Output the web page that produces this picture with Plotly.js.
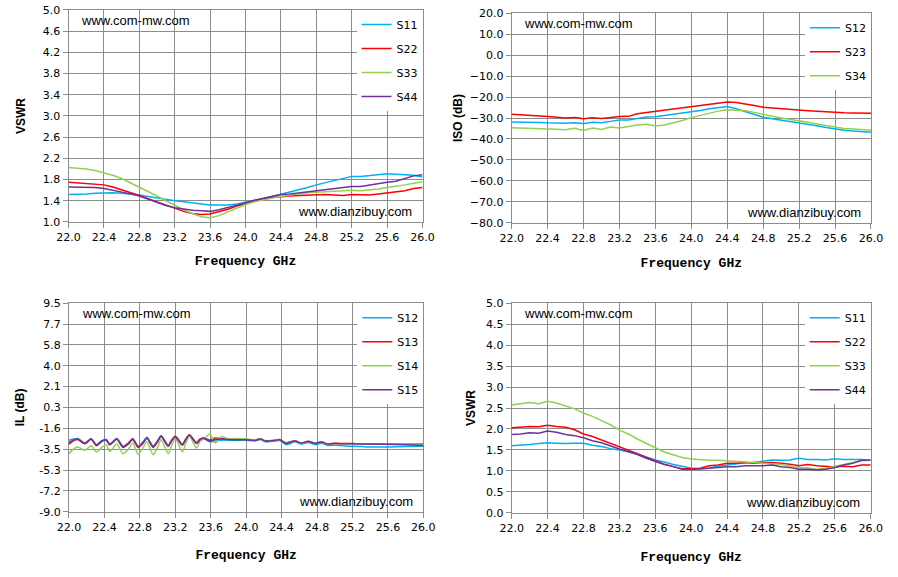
<!DOCTYPE html>
<html>
<head>
<meta charset="utf-8">
<script src="https://cdn.plot.ly/plotly-3.0.1.min.js"></script>
<style>
  html, body { margin: 0; padding: 0; background: #fff; }
  #chart { width: 898px; height: 577px; }
</style>
</head>
<body>
<div id="chart"></div>
<script>
// frequency grid (GHz) shared by the VSWR / ISO panels
var freq = [22.0, 22.1, 22.2, 22.3, 22.4, 22.5, 22.6, 22.7, 22.8, 22.9,
            23.0, 23.1, 23.2, 23.3, 23.4, 23.5, 23.6, 23.7, 23.8, 23.9,
            24.0, 24.1, 24.2, 24.3, 24.4, 24.5, 24.6, 24.7, 24.8, 24.9,
            25.0, 25.1, 25.2, 25.3, 25.4, 25.5, 25.6, 25.7, 25.8, 25.9, 26.0];

// panel 1 : VSWR
var vswrA_S11 = [1.52, 1.52, 1.53, 1.54, 1.55, 1.55, 1.54, 1.53, 1.51, 1.48,
                 1.45, 1.42, 1.40, 1.38, 1.36, 1.34, 1.32, 1.32, 1.32, 1.34,
                 1.37, 1.40, 1.44, 1.48, 1.52, 1.56, 1.61, 1.65, 1.70, 1.74,
                 1.77, 1.81, 1.86, 1.86, 1.88, 1.89, 1.91, 1.90, 1.89, 1.88, 1.85];
var vswrA_S22 = [1.75, 1.74, 1.73, 1.72, 1.70, 1.66, 1.61, 1.56, 1.50, 1.44,
                 1.38, 1.31, 1.25, 1.20, 1.16, 1.14, 1.15, 1.19, 1.24, 1.30,
                 1.35, 1.40, 1.44, 1.46, 1.48, 1.49, 1.50, 1.51, 1.51, 1.52,
                 1.51, 1.50, 1.52, 1.51, 1.51, 1.53, 1.55, 1.56, 1.59, 1.63, 1.65];
var vswrA_S33 = [2.03, 2.02, 2.00, 1.97, 1.93, 1.88, 1.82, 1.74, 1.66, 1.57,
                 1.49, 1.40, 1.31, 1.23, 1.16, 1.10, 1.08, 1.12, 1.19, 1.26,
                 1.33, 1.38, 1.42, 1.45, 1.48, 1.51, 1.53, 1.55, 1.56, 1.57,
                 1.58, 1.58, 1.60, 1.59, 1.60, 1.62, 1.65, 1.67, 1.70, 1.73, 1.76];
var vswrA_S44 = [1.66, 1.66, 1.65, 1.65, 1.63, 1.60, 1.56, 1.53, 1.49, 1.43,
                 1.37, 1.31, 1.27, 1.24, 1.22, 1.21, 1.20, 1.23, 1.27, 1.32,
                 1.36, 1.41, 1.45, 1.49, 1.52, 1.53, 1.55, 1.57, 1.58, 1.60,
                 1.63, 1.64, 1.67, 1.67, 1.70, 1.72, 1.75, 1.77, 1.82, 1.87, 1.89];

// panel 2 : isolation (dB)
var iso_S12 = [-31.9, -31.9, -32.0, -32.1, -32.3, -32.4, -32.5, -32.2, -32.6, -32.0,
               -32.2, -31.6, -31.0, -30.9, -30.3, -29.5, -29.4, -28.8, -28.4, -27.8,
               -27.3, -26.4, -25.6, -25.0, -24.5, -25.6, -27.0, -28.4, -29.6, -30.4,
               -31.0, -31.6, -32.3, -33.0, -33.7, -34.5, -35.3, -35.8, -36.2, -36.5, -36.8];
var iso_S23 = [-28.2, -28.4, -28.8, -29.0, -29.3, -29.6, -30.0, -29.8, -30.4, -29.9,
               -30.2, -29.8, -29.3, -29.2, -28.0, -27.4, -26.8, -26.4, -25.8, -25.2,
               -24.6, -23.9, -23.3, -22.8, -22.3, -22.6, -23.2, -24.0, -24.8, -25.2,
               -25.6, -25.9, -26.2, -26.5, -26.8, -27.1, -27.3, -27.5, -27.6, -27.7, -27.7];
var iso_S34 = [-34.6, -34.7, -34.8, -35.1, -35.2, -35.4, -35.6, -34.9, -35.9, -34.8,
               -35.5, -34.3, -34.8, -33.9, -33.3, -33.0, -33.8, -33.3, -32.4, -31.2,
               -29.8, -28.7, -27.6, -26.7, -26.0, -26.1, -26.5, -27.3, -28.4, -29.2,
               -30.0, -30.6, -31.3, -32.0, -32.8, -33.6, -34.4, -35.0, -35.3, -35.6, -35.8];

// panel 3 : insertion loss (dB), sampled at the ripple peaks / troughs
var ilFreq = [22.00, 22.05, 22.10, 22.18, 22.25, 22.31, 22.37, 22.42, 22.46, 22.54,
              22.61, 22.67, 22.72, 22.78, 22.83, 22.88, 22.95, 23.00, 23.04, 23.12,
              23.16, 23.20, 23.28, 23.32, 23.36, 23.44, 23.48, 23.52, 23.59, 23.65,
              23.72, 23.80, 23.90, 24.00, 24.10, 24.16, 24.22, 24.30, 24.38, 24.45,
              24.55, 24.62, 24.70, 24.78, 24.85, 24.92, 25.00, 25.10, 25.20, 25.30,
              25.40, 25.60, 25.80, 26.00];
var il_S12 = [-2.65, -2.55, -2.50, -2.92, -2.52, -3.05, -2.70, -2.60, -3.00, -2.50,
              -3.20, -2.90, -2.50, -3.20, -2.85, -2.40, -3.20, -2.70, -2.25, -3.10,
              -2.65, -2.30, -3.00, -2.55, -2.25, -2.85, -2.55, -2.50, -2.80, -2.72,
              -2.65, -2.65, -2.65, -2.65, -2.70, -2.60, -2.80, -2.75, -2.68, -3.05,
              -2.80, -3.00, -2.85, -3.05, -2.92, -3.12, -3.10, -3.15, -3.20, -3.22,
              -3.25, -3.25, -3.22, -3.20];
var il_S13 = [-3.00, -2.70, -2.60, -2.98, -2.55, -3.10, -2.75, -2.62, -3.05, -2.55,
              -3.25, -2.95, -2.55, -3.25, -2.95, -2.45, -3.25, -2.75, -2.28, -3.15,
              -2.65, -2.30, -3.05, -2.55, -2.18, -2.90, -2.55, -2.45, -2.65, -2.45,
              -2.52, -2.58, -2.55, -2.58, -2.65, -2.52, -2.72, -2.68, -2.60, -2.90,
              -2.70, -2.90, -2.75, -2.92, -2.80, -2.98, -2.92, -2.95, -2.95, -2.97,
              -2.98, -3.00, -3.00, -3.00];
var il_S14 = [-3.85, -3.45, -3.25, -3.55, -3.15, -3.70, -3.30, -3.05, -3.65, -3.00,
              -3.85, -3.45, -2.90, -3.90, -3.40, -2.80, -3.95, -3.30, -2.60, -3.85,
              -3.10, -2.45, -3.70, -2.90, -2.30, -3.35, -2.75, -2.55, -2.10, -2.90,
              -2.35, -2.55, -2.50, -2.55, -2.62, -2.50, -2.78, -2.68, -2.62, -2.95,
              -2.72, -2.95, -2.78, -2.92, -2.82, -2.98, -2.95, -2.97, -2.97, -2.98,
              -3.00, -3.00, -3.00, -3.02];
var il_S15 = [-2.85, -2.65, -2.55, -2.95, -2.55, -3.15, -2.75, -2.65, -3.05, -2.55,
              -3.30, -3.00, -2.60, -3.30, -3.00, -2.45, -3.30, -2.80, -2.30, -3.20,
              -2.70, -2.35, -3.10, -2.60, -2.20, -2.95, -2.60, -2.45, -2.75, -2.60,
              -2.55, -2.60, -2.62, -2.62, -2.68, -2.55, -2.75, -2.70, -2.62, -2.95,
              -2.72, -2.92, -2.78, -2.95, -2.82, -3.00, -2.95, -2.98, -2.98, -3.00,
              -3.00, -3.02, -3.05, -3.12];
var ilTickVals = [9.5, 7.65, 5.8, 3.95, 2.1, 0.25, -1.6, -3.45, -5.3, -7.15, -9.0];
var ilTickText = ['9.5', '7.7', '5.8', '4.0', '2.1', '0.3', '-1.6', '-3.5', '-5.3', '-7.2', '-9.0'];

// panel 4 : VSWR
var vswrB_S11 = [1.60, 1.61, 1.63, 1.65, 1.67, 1.66, 1.65, 1.66, 1.66, 1.61,
                 1.58, 1.53, 1.50, 1.45, 1.40, 1.33, 1.26, 1.21, 1.15, 1.11,
                 1.06, 1.05, 1.07, 1.11, 1.14, 1.17, 1.19, 1.20, 1.23, 1.26,
                 1.25, 1.26, 1.30, 1.27, 1.27, 1.26, 1.29, 1.27, 1.27, 1.27, 1.25];
var vswrB_S22 = [2.03, 2.04, 2.06, 2.05, 2.09, 2.06, 2.04, 1.98, 1.88, 1.82,
                 1.74, 1.66, 1.57, 1.50, 1.41, 1.32, 1.24, 1.16, 1.10, 1.05,
                 1.05, 1.06, 1.12, 1.14, 1.18, 1.18, 1.20, 1.18, 1.19, 1.20,
                 1.18, 1.16, 1.12, 1.15, 1.12, 1.11, 1.09, 1.11, 1.10, 1.14, 1.14];
var vswrB_S33 = [2.57, 2.60, 2.63, 2.60, 2.66, 2.62, 2.55, 2.48, 2.38, 2.30,
                 2.20, 2.10, 1.97, 1.88, 1.76, 1.65, 1.55, 1.45, 1.38, 1.32,
                 1.28, 1.26, 1.25, 1.25, 1.24, 1.23, 1.22, 1.20, 1.18, 1.17,
                 1.15, 1.12, 1.08, 1.07, 1.04, 1.06, 1.10, 1.15, 1.20, 1.24, 1.25];
var vswrB_S44 = [1.87, 1.88, 1.91, 1.90, 1.95, 1.92, 1.87, 1.84, 1.79, 1.72,
                 1.67, 1.59, 1.52, 1.46, 1.39, 1.30, 1.22, 1.15, 1.10, 1.04,
                 1.03, 1.04, 1.06, 1.08, 1.10, 1.10, 1.12, 1.12, 1.12, 1.14,
                 1.10, 1.08, 1.04, 1.04, 1.02, 1.04, 1.08, 1.14, 1.18, 1.25, 1.26];

var BLUE = '#00b0f0', RED = '#ff0000', GREEN = '#92d050', PURPLE = '#7030a0';

function line(name, x, y, color, n, legend, smooth) {
  var t = {
    x: x, y: y, name: name, type: 'scatter', mode: 'lines',
    line: { color: color, width: 1.5 },
    xaxis: 'x' + (n > 1 ? n : ''), yaxis: 'y' + (n > 1 ? n : ''),
    legend: legend, legendgroup: legend + name,
    hoverinfo: 'skip'
  };
  if (smooth) { t.line.shape = 'spline'; t.line.smoothing = 0.6; }
  return t;
}

var traces = [
  line('S11', freq, vswrA_S11, BLUE, 1, 'legend'),
  line('S22', freq, vswrA_S22, RED, 1, 'legend'),
  line('S33', freq, vswrA_S33, GREEN, 1, 'legend'),
  line('S44', freq, vswrA_S44, PURPLE, 1, 'legend'),

  line('S12', freq, iso_S12, BLUE, 2, 'legend2'),
  line('S23', freq, iso_S23, RED, 2, 'legend2'),
  line('S34', freq, iso_S34, GREEN, 2, 'legend2'),

  line('S12', ilFreq, il_S12, BLUE, 3, 'legend3', true),
  line('S13', ilFreq, il_S13, RED, 3, 'legend3', true),
  line('S14', ilFreq, il_S14, GREEN, 3, 'legend3', true),
  line('S15', ilFreq, il_S15, PURPLE, 3, 'legend3', true),

  line('S11', freq, vswrB_S11, BLUE, 4, 'legend4'),
  line('S22', freq, vswrB_S22, RED, 4, 'legend4'),
  line('S33', freq, vswrB_S33, GREEN, 4, 'legend4'),
  line('S44', freq, vswrB_S44, PURPLE, 4, 'legend4')
];

var GRID = '#8c8c8c';
var tickFont = { family: 'DejaVu Sans', size: 11, color: '#000' };

function xAxis(domain, anchor, standoff) {
  return {
    domain: domain, anchor: anchor, range: [22, 26], tick0: 22, dtick: 0.4,
    tickformat: '.1f', showgrid: true, gridcolor: GRID, gridwidth: 1,
    showline: true, linecolor: GRID, linewidth: 1, mirror: true,
    ticks: 'outside', ticklen: 5, tickcolor: GRID, zeroline: false,
    tickfont: tickFont, fixedrange: true,
    title: { text: '<b>Frequency GHz</b>\u00a0\u00a0', standoff: standoff,
             font: { family: 'Liberation Mono', size: 13, color: '#000' } }
  };
}
function yAxis(domain, anchor, range, dtick, title, standoff) {
  return {
    domain: domain, anchor: anchor, range: range, tick0: range[0], dtick: dtick,
    tickformat: '.1f', showgrid: true, gridcolor: GRID, gridwidth: 1,
    showline: true, linecolor: GRID, linewidth: 1, mirror: true,
    ticks: 'outside', ticklen: 5, tickcolor: GRID, zeroline: false,
    tickfont: tickFont, fixedrange: true,
    title: { text: '<b>' + title + '</b>', standoff: standoff,
             font: { family: 'Liberation Sans', size: 12, color: '#000' } }
  };
}
function legendBox(x, y) {
  return {
    x: x, y: y, xanchor: 'right', yanchor: 'top', bgcolor: '#ffffff',
    borderwidth: 0, tracegroupgap: 5, traceorder: 'grouped',
    font: { family: 'DejaVu Sans', size: 11, color: '#000' }
  };
}
function marks(xa, ya) {
  return [
    { xref: xa + ' domain', yref: ya + ' domain', x: 0.03, y: 0.95,
      xanchor: 'left', yanchor: 'middle', showarrow: false, text: 'www.com-mw.com',
      font: { family: 'Liberation Sans', size: 13, color: '#000' } },
    { xref: xa + ' domain', yref: ya + ' domain', x: 0.977, y: 0.05,
      xanchor: 'right', yanchor: 'middle', showarrow: false, text: 'www.dianzibuy.com',
      font: { family: 'Liberation Sans', size: 13, color: '#000' } }
  ];
}

var ilAxis = yAxis([0.1132, 0.4744], 'x3', [-9, 9.5], 1.85, 'IL (dB)', 12);
ilAxis.tickmode = 'array';
ilAxis.tickvals = ilTickVals;
ilAxis.ticktext = ilTickText;

var layout = {
  width: 898, height: 577,
  margin: { l: 0, r: 0, t: 0, b: 0 },
  paper_bgcolor: '#ffffff', plot_bgcolor: '#ffffff',
  font: { family: 'DejaVu Sans', size: 11, color: '#000' },
  xaxis:  xAxis([0.0763, 0.4705], 'y', 12),
  yaxis:  yAxis([0.6153, 0.9827], 'x', [1, 5], 0.4, 'VSWR', 14),
  xaxis2: xAxis([0.5698, 0.9699], 'y2', 13),
  yaxis2: yAxis([0.6140, 0.9769], 'x2', [-80, 20], 10, 'ISO (dB)', 4),
  xaxis3: xAxis([0.0768, 0.4714], 'y3', 17),
  yaxis3: ilAxis,
  xaxis4: xAxis([0.5698, 0.9696], 'y4', 17),
  yaxis4: yAxis([0.1114, 0.4744], 'x4', [0, 5], 0.5, 'VSWR', 7),
  legend:  legendBox(0.4705, 0.9827),
  legend2: legendBox(0.9699, 0.9769),
  legend3: legendBox(0.4714, 0.4744),
  legend4: legendBox(0.9696, 0.4744),
  annotations: [].concat(marks('x', 'y'), marks('x2', 'y2'), marks('x3', 'y3'), marks('x4', 'y4'))
};

Plotly.newPlot('chart', traces, layout, { displayModeBar: false, staticPlot: true });
</script>
</body>
</html>
